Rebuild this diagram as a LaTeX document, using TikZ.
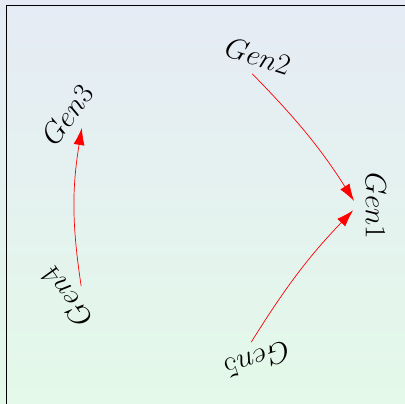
\documentclass[tikz,border=0pt]{standalone}
\usepackage{graphicx}
\usetikzlibrary{arrows.meta}
\definecolor{bgtop}{RGB}{229,235,245}
\definecolor{bgbot}{RGB}{228,249,233}
\newcommand{\genlabel}[1]{\scalebox{1.18}{\Huge $#1$}}
\begin{document}
\begin{tikzpicture}[x=1pt,y=-1pt,
  gen/.style={inner sep=8.5pt},
  link/.style={red, line width=0.7pt, -{Latex[length=17pt,width=11pt]}, shorten >=6pt}]
\useasboundingbox (0,0) rectangle (405,404);
\shade[top color=bgtop, bottom color=bgbot] (0,0) rectangle (405,404);
\draw[line width=0.8pt] (6,410) -- (6,5.5) -- (410,5.5);
\node[gen, rotate=-90] (g1) at (376,206) {\genlabel{Gen1}};
\node[gen, rotate=-18] (g2) at (258,56) {\genlabel{Gen2}};
\node[gen, rotate=54] (g3) at (67,115) {\genlabel{Gen3}};
\node[gen, rotate=126] (g4) at (66,297) {\genlabel{Gen4}};
\node[gen, rotate=198] (g5) at (257,360) {\genlabel{Gen5}};
\draw[link, bend left=6] (g2.south) to (g1.south);
\draw[link, bend left=6] (g5.south) to (g1.south);
\draw[link, bend left=9, shorten >=2pt] (g4.south) to (g3.south);
\end{tikzpicture}
\end{document}
